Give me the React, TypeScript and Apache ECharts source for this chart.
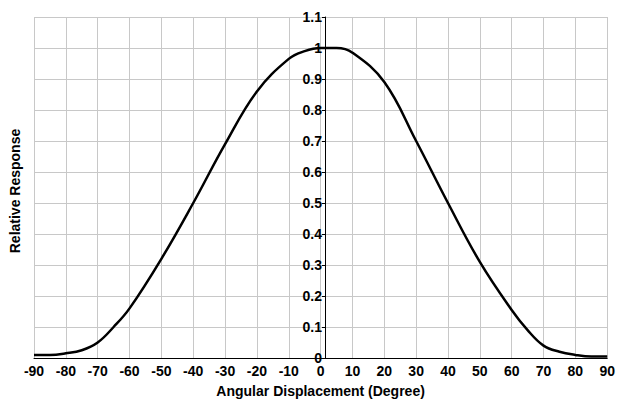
import React, { useEffect, useRef } from "react";
import * as echarts from "echarts";

const angles = [-90, -85, -80, -75, -70, -65, -60, -50, -40, -30, -20, -10, -5, 0, 5, 10, 20, 30, 40, 50, 60, 65, 70, 75, 80, 85, 90];
const response = [0.01, 0.01, 0.015, 0.025, 0.05, 0.1, 0.16, 0.32, 0.5, 0.69, 0.86, 0.965, 0.99, 1.0, 1.0, 0.985, 0.89, 0.7, 0.5, 0.31, 0.155, 0.09, 0.04, 0.02, 0.01, 0.005, 0.005];

const font = "'Liberation Sans', Arial, sans-serif";

export default function App() {
  const ref = useRef<HTMLDivElement>(null);
  useEffect(() => {
    const chart = echarts.init(ref.current!, null, { renderer: "svg" });
    chart.setOption({
      animation: false,
      grid: { left: 26, right: 9, top: 9, bottom: 51 },
      xAxis: {
        type: "value", min: -90, max: 90, interval: 10,
        name: "Angular Displacement (Degree)", nameLocation: "middle", nameGap: 26,
        nameTextStyle: { fontFamily: font, fontWeight: "bold", fontSize: 14, color: "#000" },
        axisLine: { lineStyle: { color: "#000" } },
        axisTick: { show: false },
        axisLabel: { fontFamily: font, fontWeight: "bold", fontSize: 14, color: "#000", margin: 6 },
        splitLine: { lineStyle: { color: "#c8c8c8" } },
      },
      yAxis: {
        type: "value", min: 0, max: 1.1, interval: 0.1, offset: -291,
        axisLine: { show: true, lineStyle: { color: "#000" } },
        axisTick: { show: true, length: 3 },
        axisLabel: { fontFamily: font, fontWeight: "bold", fontSize: 14, color: "#000", margin: 3 },
        splitLine: { lineStyle: { color: "#c8c8c8" } },
      },
      graphic: [{
        type: "text", x: 0, y: 183, rotation: Math.PI / 2,
        style: { text: "Relative Response", fill: "#000", font: "bold 14px " + font, textAlign: "center", textVerticalAlign: "top" },
      }],
      series: [{
        type: "line", smooth: 0.4, showSymbol: false,
        data: angles.map((a, i) => [a, response[i]]),
        lineStyle: { color: "#000", width: 2.5 },
      }],
    });
    return () => chart.dispose();
  }, []);
  return <div ref={ref} style={{ width: 610, height: 401 }} />;
}
